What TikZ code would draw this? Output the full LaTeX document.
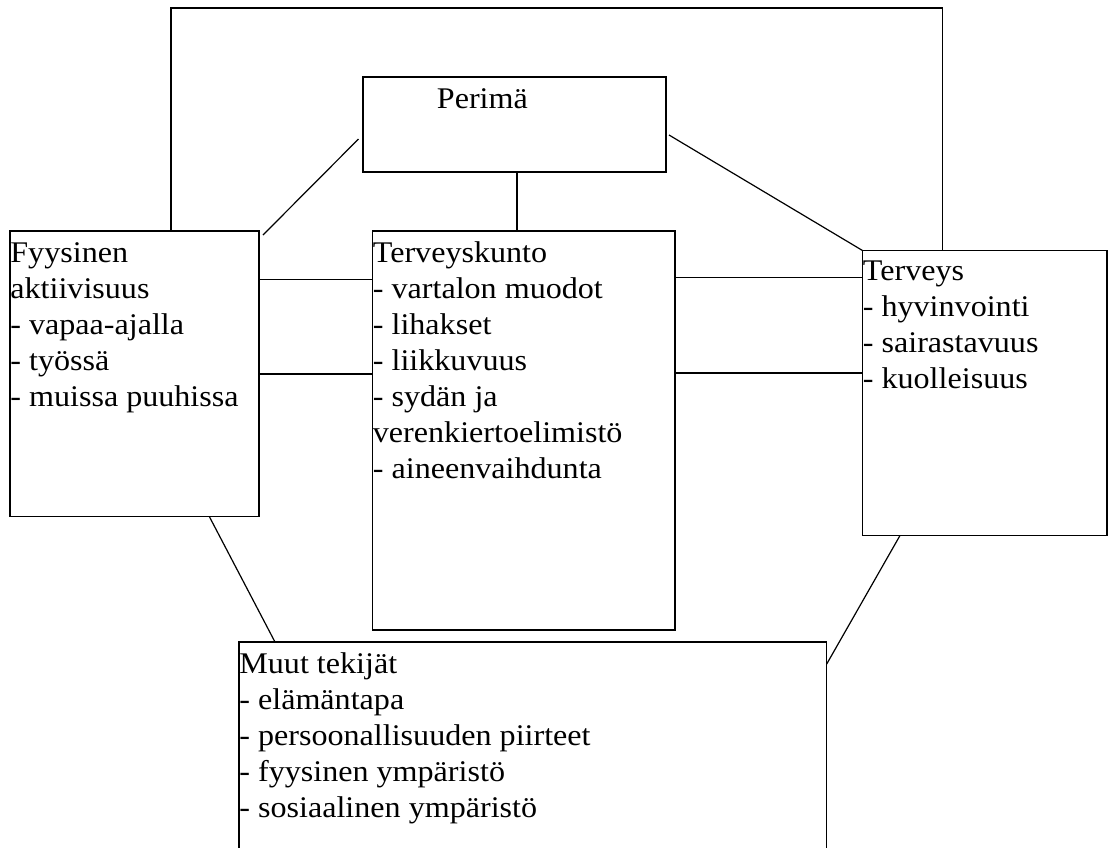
\documentclass[tikz,border=0pt]{standalone}
\usepackage{fontspec}
\setmainfont{Liberation Serif}[FakeStretch=1.07]
\usetikzlibrary{positioning,calc}
\newcommand{\boxstrut}{\rule{0pt}{15.3pt}}

\begin{document}
\begin{tikzpicture}[
  x=0.5pt, y=-0.5pt,
  every node/.style={font=\fontsize{15}{18}\selectfont},
  box/.style={draw, line width=0.6pt, inner sep=0pt, outer sep=0pt, anchor=north west},
  txt/.style={anchor=north west, inner sep=0pt, align=left},
  link/.style={line width=0.6pt}
]
\useasboundingbox (0,0) rectangle (1108,847);
\clip (0,0) rectangle (1108,847);
% boxes
\node[box, minimum width=151.5pt, minimum height=47.5pt] (perima) at (363,77) {};
\node[box, minimum width=124.5pt, minimum height=142.75pt] (fyys) at (10,231) {};
\node[box, minimum width=151.25pt, minimum height=199.5pt] (kunto) at (372.5,231) {};
\node[box, minimum width=122.25pt, minimum height=142.5pt] (terv) at (862.5,250.5) {};
\node[box, minimum width=293.85pt, minimum height=120pt] (muut) at (239,642) {};
% texts
\node[anchor=base west, inner sep=0pt] (perimatxt) at ($(perima.north west)+(73.5,31)$) {Perimä};
\node[txt] (fyystxt) at (fyys.north west) {\boxstrut Fyysinen\\aktiivisuus\\- vapaa-ajalla\\- työssä\\- muissa puuhissa};
\node[txt] (kuntotxt) at (kunto.north west) {\boxstrut Terveyskunto\\- vartalon muodot\\- lihakset\\- liikkuvuus\\- sydän ja\\verenkiertoelimistö\\- aineenvaihdunta};
\node[txt] (tervtxt) at ($(terv.north west)+(0,-1)$) {\boxstrut Terveys\\- hyvinvointi\\- sairastavuus\\- kuolleisuus};
\node[txt] (muuttxt) at (muut.north west) {\boxstrut Muut tekijät\\- elämäntapa\\- persoonallisuuden piirteet\\- fyysinen ympäristö\\- sosiaalinen ympäristö};
% connectors
\coordinate (topl) at (171,8);
\coordinate (topr) at (942.5,8);
\draw[link] (fyys.north -| topl) -- (topl) -- (topr) -- (topr |- terv.north);
\draw[link] ($(perima.south)+(2.5,0)$) -- ($(kunto.north)+(-6.75,0)$);
\draw[link] ($(perima.north west)+(-4.5,62)$) -- ($(fyys.north east)+(4,4)$);
\draw[link] ($(perima.north east)+(3,58)$) -- (terv.north west);
\draw[link] ($(fyys.north east)+(0,48.3)$) -- ($(kunto.north west)+(0,48.3)$);
\draw[link] ($(fyys.north east)+(0,143)$) -- ($(kunto.north west)+(0,143)$);
\draw[link] ($(kunto.north east)+(0,46.7)$) -- ($(terv.north west)+(0,27.2)$);
\draw[link] ($(kunto.north east)+(0,142)$) -- ($(terv.north west)+(0,122.5)$);
\draw[link] ($(fyys.south west)+(199.3,0)$) -- ($(muut.north west)+(36,0)$);
\draw[link] ($(terv.south west)+(37.5,0)$) -- ($(muut.north east)+(0,22)$);
\end{tikzpicture}
\end{document}
